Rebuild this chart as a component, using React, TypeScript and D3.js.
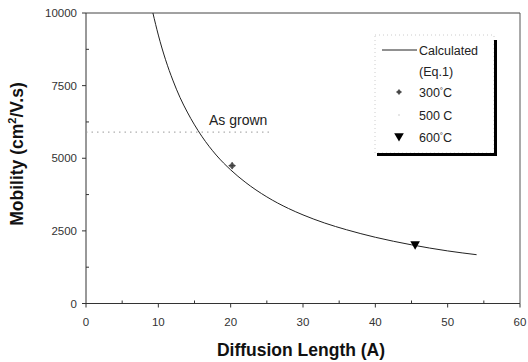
import React from "react";
import * as d3 from "d3";

const curveL = [9.25, 10, 11, 12, 13, 14, 16, 18, 20, 22, 25, 28, 30, 33, 36, 40, 45, 50, 54];
const curveMu = [10000, 9240, 8390, 7690, 7090, 6590, 5760, 5110, 4600, 4180, 3670, 3270, 3050, 2770, 2540, 2280, 2020, 1810, 1680];
const p300 = { L: 20.2, mu: 4745 };
const p600 = { L: 45.5, mu: 2045 };
const asGrown = 5900;
const asGrownEnd = 25.5;
const xTicks = [0, 10, 20, 30, 40, 50, 60];
const xMinor = [5, 15, 25, 35, 45, 55];
const yTicks = [0, 2500, 5000, 7500, 10000];
const yMinor = [1250, 3750, 6250, 8750];

const W = 528, H = 362;
const M = { left: 86, right: 520, top: 13, bottom: 303.5 };

export default function App() {
  const x = d3.scaleLinear().domain([0, 60]).range([M.left, M.right]);
  const y = d3.scaleLinear().domain([0, 10000]).range([M.bottom, M.top]);
  const pts: [number, number][] = curveL.map((l, i) => [l, curveMu[i]]);
  const line = d3.line<[number, number]>().x(d => x(d[0])).y(d => y(d[1])).curve(d3.curveMonotoneX);
  const font = "'Liberation Sans', Arial, sans-serif";
  const tri = d3.symbol().type(d3.symbolTriangle).size(40)();
  const lx = 375, ly = 35, lw = 119, lh = 118;
  return (
    <svg width={W} height={H} style={{ position: "absolute", left: 0, top: 0, background: "#fff" }} fontFamily={font}>
      {/* frame */}
      <line x1={M.left} x2={M.right} y1={M.top} y2={M.top} stroke="#444" strokeWidth={1} />
      <line x1={M.right} x2={M.right} y1={M.top} y2={M.bottom} stroke="#555" strokeWidth={1} />
      <line x1={M.left} x2={M.right} y1={M.bottom} y2={M.bottom} stroke="#333" strokeWidth={1} />
      <line x1={M.left} x2={M.left} y1={M.top} y2={M.bottom} stroke="#333" strokeWidth={1} />
      {/* x ticks */}
      {xTicks.map(t => (
        <g key={"xt" + t}>
          <line x1={x(t)} x2={x(t)} y1={M.bottom} y2={M.bottom + 4} stroke="#333" />
          <text x={x(t)} y={M.bottom + 22} textAnchor="middle" fontSize={11.5} fill="#333">{t}</text>
        </g>
      ))}
      {xMinor.map(t => (
        <line key={"xm" + t} x1={x(t)} x2={x(t)} y1={M.bottom} y2={M.bottom - 3} stroke="#333" />
      ))}
      {/* y ticks */}
      {yTicks.map(t => (
        <g key={"yt" + t}>
          <line x1={M.left - 4} x2={M.left} y1={y(t)} y2={y(t)} stroke="#333" />
          <text x={M.left - 9} y={y(t) + 4} textAnchor="end" fontSize={11.5} fill="#333">{t}</text>
        </g>
      ))}
      {yMinor.map(t => (
        <line key={"ym" + t} x1={M.left} x2={M.left + 3} y1={y(t)} y2={y(t)} stroke="#333" />
      ))}
      {/* axis titles */}
      <text x={301} y={356} textAnchor="middle" fontSize={17.5} fontWeight="bold" fill="#111">Diffusion Length (A)</text>
      <text transform={`translate(23,154) rotate(-90)`} textAnchor="middle" fontSize={17.5} fontWeight="bold" fill="#111">
        Mobility (cm<tspan dy={-7} fontSize={11}>2</tspan><tspan dy={7}>/V.s)</tspan>
      </text>
      {/* as grown */}
      <line x1={x(0)} x2={x(asGrownEnd)} y1={y(asGrown)} y2={y(asGrown)} stroke="#999" strokeDasharray="1.5,4" strokeWidth={1} />
      <text x={209} y={125} fontSize={14} fill="#222">As grown</text>
      {/* curve */}
      <path d={line(pts) || ""} fill="none" stroke="#222" strokeWidth={1} />
      {/* points */}
      <g transform={`translate(${x(p300.L)},${y(p300.mu)})`}>
        <rect x={-2.5} y={-2.5} width={5} height={5} transform="rotate(45)" fill="#666" />
        <path d="M-3.5,0H3.5M0,-3.5V3.5" stroke="#333" strokeWidth={0.8} />
      </g>
      <path d={tri || ""} transform={`translate(${x(p600.L)},${y(p600.mu)}) rotate(180)`} fill="#000" />
      {/* legend */}
      <rect x={lx} y={ly} width={lw} height={lh} fill="#fff" stroke="#ccc" strokeDasharray="1,3" strokeWidth={1} />
      <line x1={lx + lw + 1.5} x2={lx + lw + 1.5} y1={ly + 5} y2={ly + lh + 3} stroke="#000" strokeWidth={3} />
      <line x1={lx + 2} x2={lx + lw + 3} y1={ly + lh + 1.5} y2={ly + lh + 1.5} stroke="#000" strokeWidth={3} />
      <line x1={382} x2={417} y1={50} y2={50} stroke="#222" strokeWidth={1} />
      <text x={419} y={54.5} fontSize={12.5} fill="#222">Calculated</text>
      <text x={419} y={75.5} fontSize={12.5} fill="#222">(Eq.1)</text>
      <g transform="translate(399,92)">
        <rect x={-2} y={-2} width={4} height={4} transform="rotate(45)" fill="#666" />
        <path d="M-2.5,0H2.5M0,-2.5V2.5" stroke="#333" strokeWidth={0.8} />
      </g>
      <text x={419} y={96.5} fontSize={12.5} fill="#222">300<tspan dy={-4} fontSize={8}>°</tspan><tspan dy={4}>C</tspan></text>
      <circle cx={399} cy={115} r={0.7} fill="#bbb" />
      <text x={419} y={119.5} fontSize={12.5} fill="#222">500 C</text>
      <path d={tri || ""} transform="translate(399,136) rotate(180)" fill="#000" />
      <text x={419} y={141.5} fontSize={12.5} fill="#222">600<tspan dy={-4} fontSize={8}>°</tspan><tspan dy={4}>C</tspan></text>
    </svg>
  );
}
